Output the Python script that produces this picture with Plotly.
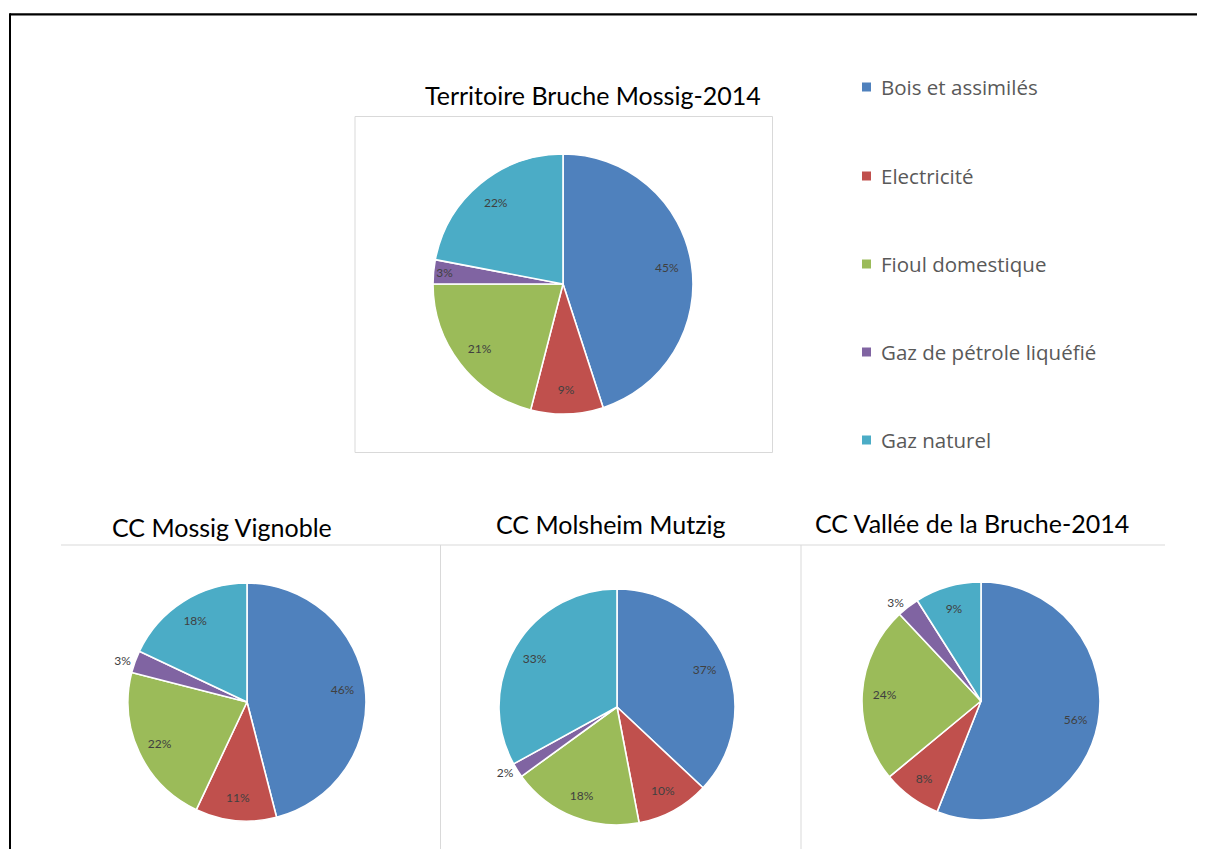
import plotly.graph_objects as go

W, H = 1205, 849
OFF = 8  # page body margin of the written html

# ---------------- data ----------------
categories = ["Bois et assimilés", "Electricité", "Fioul domestique",
              "Gaz de pétrole liquéfié", "Gaz naturel"]
titles = ["Territoire Bruche Mossig-2014", "CC Mossig Vignoble",
          "CC Molsheim Mutzig", "CC Vallée de la Bruche-2014"]
vals_territoire = [45, 9, 21, 3, 22]
vals_mossig = [46, 11, 22, 3, 18]
vals_molsheim = [37, 10, 18, 2, 33]
vals_vallee = [56, 8, 24, 3, 9]

# ---------------- style ----------------
colors = ["#4F81BD", "#C0504D", "#9BBB59", "#8064A2", "#4BACC6"]
FONT = "Lato, 'Open Sans', sans-serif"
LEGFONT = "'Open Sans', sans-serif"
GRID = "#D9D9D9"

FW, FH = W - OFF, H - OFF

def px(x):
    return (x - OFF) / FW

def py(y):
    return 1 - (y - OFF) / FH

# (values, center x, center y, radius, title centre x, title centre y, text positions)
charts = [
    (vals_territoire, 563, 284, 130, 593, 95, ["inside"] * 5),
    (vals_mossig, 247, 702, 119, 222, 527, ["inside", "inside", "inside", "outside", "inside"]),
    (vals_molsheim, 617, 707, 118, 610, 524, ["inside", "inside", "inside", "outside", "inside"]),
    (vals_vallee, 981, 701, 119, 972, 523, ["inside", "inside", "inside", "outside", "inside"]),
]

fig = go.Figure()
annotations = []
for (vals, cx, cy, r, tx, ty, tpos), title in zip(charts, titles):
    dom = dict(x=[px(cx - r), px(cx + r)], y=[py(cy + r), py(cy - r)])
    fig.add_trace(go.Pie(
        labels=categories, values=vals, sort=False, direction="clockwise",
        rotation=0, domain=dom, textinfo="none", hoverinfo="skip",
        marker=dict(colors=colors, line=dict(color="white", width=1.6)),
        showlegend=False,
    ))
    # label ring: same data, transparent, so percentages sit near the rim
    fig.add_trace(go.Pie(
        labels=categories, values=vals, sort=False, direction="clockwise",
        rotation=0, domain=dom, hole=0.62,
        texttemplate="%{percent:.0%}", textposition=tpos,
        insidetextorientation="horizontal",
        textfont=dict(family=FONT, size=12, color="#404040"),
        marker=dict(colors=["rgba(0,0,0,0)"] * 5, line=dict(width=0)),
        hoverinfo="skip", showlegend=False,
    ))
    annotations.append(dict(
        text=title, x=px(tx), y=py(ty), xref="paper", yref="paper",
        xanchor="center", yanchor="middle", showarrow=False,
        font=dict(family=FONT, size=25, color="#000000"),
    ))

# legend (manual, Excel-like spacing)
shapes = []
leg_y = [87, 176, 264, 352, 440]
for cat, col, ly in zip(categories, colors, leg_y):
    shapes.append(dict(type="rect", xref="paper", yref="paper",
                       x0=px(862), x1=px(871), y0=py(ly + 4.5), y1=py(ly - 4.5),
                       fillcolor=col, line=dict(width=0)))
    annotations.append(dict(
        text=cat, x=px(879), y=py(ly), xref="paper", yref="paper",
        xanchor="left", yanchor="middle", showarrow=False,
        font=dict(family=LEGFONT, size=20.5, color="#595959"),
    ))

# top chart frame
shapes.append(dict(type="rect", xref="paper", yref="paper",
                   x0=px(355), x1=px(772.5), y0=py(452.5), y1=py(116.5),
                   line=dict(color=GRID, width=1), fillcolor="rgba(0,0,0,0)"))
# bottom chart frames (partially visible)
shapes.append(dict(type="line", xref="paper", yref="paper",
                   x0=px(61), x1=px(1165), y0=py(545), y1=py(545),
                   line=dict(color=GRID, width=1)))
for vx in [440.5, 801]:
    shapes.append(dict(type="line", xref="paper", yref="paper",
                       x0=px(vx), x1=px(vx), y0=py(545), y1=0,
                       line=dict(color=GRID, width=1)))
# outer black frame (top + left)
shapes.append(dict(type="line", xref="paper", yref="paper",
                   x0=px(10), x1=1, y0=py(14.3), y1=py(14.3),
                   line=dict(color="black", width=2.2)))
shapes.append(dict(type="line", xref="paper", yref="paper",
                   x0=px(10), x1=px(10), y0=py(13.2), y1=0,
                   line=dict(color="black", width=2)))

fig.update_layout(
    width=FW, height=FH, margin=dict(l=0, r=0, t=0, b=0),
    paper_bgcolor="white", plot_bgcolor="white",
    shapes=shapes, annotations=annotations, showlegend=False,
    font=dict(family=FONT),
)

fig.write_html("out.html")
